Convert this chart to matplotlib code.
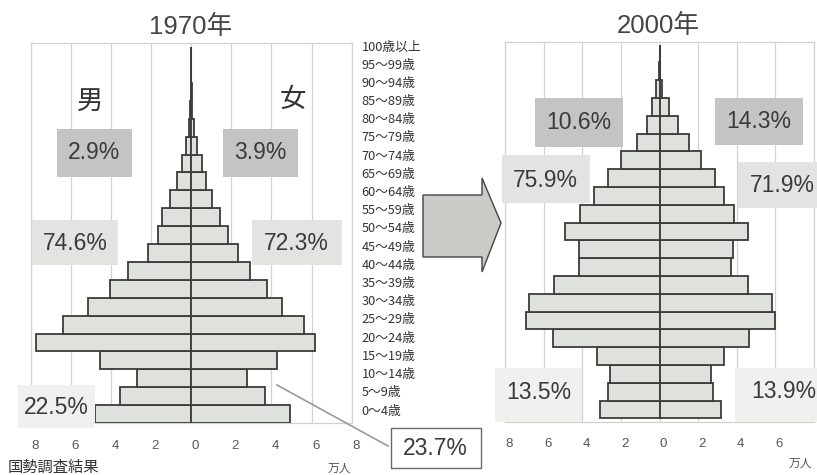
import matplotlib
matplotlib.use("Agg")
import matplotlib.pyplot as plt
import matplotlib.transforms as mtransforms
from matplotlib.patches import Rectangle, Polygon
from matplotlib.lines import Line2D
import numpy as np

plt.rcParams['font.family'] = ['Noto Sans CJK JP', 'DejaVu Sans']

# ---- data (万人) ----
age_labels = ['0〜4歳', '5〜9歳', '10〜14歳', '15〜19歳', '20〜24歳', '25〜29歳',
              '30〜34歳', '35〜39歳', '40〜44歳', '45〜49歳', '50〜54歳', '55〜59歳',
              '60〜64歳', '65〜69歳', '70〜74歳', '75〜79歳', '80〜84歳', '85〜89歳',
              '90〜94歳', '95〜99歳', '100歳以上']

male_1970 = [4.80, 3.55, 2.72, 4.53, 7.72, 6.37, 5.13, 4.05, 3.13, 2.15, 1.67,
             1.47, 1.05, 0.72, 0.45, 0.28, 0.12, 0.05, 0.02, 0.0, 0.0]
female_1970 = [4.90, 3.68, 2.78, 4.30, 6.15, 5.60, 4.55, 3.78, 2.95, 2.32, 1.85,
               1.45, 1.05, 0.75, 0.53, 0.30, 0.14, 0.06, 0.02, 0.0, 0.0]

male_2000 = [3.06, 2.69, 2.57, 3.23, 5.51, 6.89, 6.75, 5.46, 4.16, 4.16, 4.87,
             4.12, 3.38, 2.69, 1.97, 1.19, 0.67, 0.38, 0.19, 0.04, 0.0]
female_2000 = [3.18, 2.78, 2.69, 3.34, 4.65, 5.98, 5.80, 4.56, 3.68, 3.82, 4.56,
               3.87, 3.35, 2.87, 2.15, 1.52, 0.97, 0.49, 0.14, 0.03, 0.0]

xticks = [-8, -6, -4, -2, 0, 2, 4, 6, 8]
xtick_labels_1970 = ['8', '6', '4', '2', '0', '2', '4', '6', '8']
xtick_labels_2000 = ['8', '6', '4', '2', '0', '2', '4', '6', '']

titles = ['1970年', '2000年']
sex_labels = ['男', '女']

# share boxes: 65+ (top), 15-64 (middle), 0-14 (bottom)
pct_1970_male = ['2.9%', '74.6%', '22.5%']
pct_1970_female = ['3.9%', '72.3%', '23.7%']
pct_2000_male = ['10.6%', '75.9%', '13.5%']
pct_2000_female = ['14.3%', '71.9%', '13.9%']

source_text = '国勢調査結果'
unit_text = '万人'

# ---- figure ----
W, H = 817, 475
fig = plt.figure(figsize=(W / 100, H / 100), dpi=100)
fig.patch.set_facecolor('white')


def fx(x):
    return x / W


def fy(y):
    return 1 - y / H


def add_axes_px(x0, y0, x1, y1):
    return fig.add_axes([fx(x0), fy(y1), (x1 - x0) / W, (y1 - y0) / H])


BAR_FACE = '#dfe1dc'
BAR_EDGE = '#3b3b38'
GRID = '#d2d2d2'
TEXT = '#3a3a3a'
LATIN = ['Liberation Sans', 'Noto Sans CJK JP']


def pyramid(ax, male, female, ylim, labels, pad):
    y = np.arange(len(male))
    ax.barh(y, -np.array(male), height=1.0, color=BAR_FACE, edgecolor=BAR_EDGE,
            linewidth=1.3, zorder=3)
    ax.barh(y, female, height=1.0, color=BAR_FACE, edgecolor=BAR_EDGE,
            linewidth=1.3, zorder=3)
    ax.set_xlim(-8, 8)
    ax.set_ylim(*ylim)
    ax.set_xticks(xticks)
    ax.set_xticklabels(labels, fontfamily='Liberation Sans', fontsize=9.5,
                       color='#555555')
    ax.set_yticks([])
    ax.tick_params(axis='x', length=0, pad=pad)
    ax.grid(axis='x', color=GRID, linewidth=0.9)
    ax.set_axisbelow(True)
    for s in ax.spines.values():
        s.set_color(GRID)
        s.set_linewidth(0.9)
    shift = mtransforms.ScaledTranslation(4 / 100, 0, fig.dpi_scale_trans)
    for lab in ax.get_xticklabels():
        lab.set_transform(lab.get_transform() + shift)


ax1 = add_axes_px(30.7, 43, 351.7, 423)
pyramid(ax1, male_1970, female_1970, (-0.5, 20.73), xtick_labels_1970, 12.5)

ax2 = add_axes_px(505, 41.7, 814, 421.7)
pyramid(ax2, male_2000, female_2000, (-0.685, 20.66), xtick_labels_2000, 11.5)

# age-class labels to the right of the 1970 pyramid
for i, lab in enumerate(age_labels):
    ax1.text(8.5, i + 0.17 + 0.017 * i, lab, fontsize=9.2, color='#333333',
             ha='left', va='center', clip_on=False)

# titles
fig.text(fx(190.5), fy(27), titles[0], fontfamily=LATIN, fontsize=18.5,
         color='#444444', ha='center', va='center')
fig.text(fx(658), fy(26), titles[1], fontfamily=LATIN, fontsize=18.5,
         color='#444444', ha='center', va='center')

# sex labels
fig.text(fx(90.5), fy(101), sex_labels[0], fontsize=19, color='#333333',
         ha='center', va='center')
fig.text(fx(292.5), fy(99), sex_labels[1], fontsize=19, color='#333333',
         ha='center', va='center')

MID = '#c4c5c2'
LIGHT = '#e3e4e1'
PALE = '#f0f0ee'


def share_box(x0, y0, x1, y1, face, text, tx=None, ty=None, edge=None, lw=0):
    fig.patches.append(Rectangle((fx(x0), fy(y1)), (x1 - x0) / W, (y1 - y0) / H,
                                 transform=fig.transFigure, facecolor=face,
                                 edgecolor=edge if edge else face,
                                 linewidth=lw, zorder=5))
    cx = (x0 + x1) / 2 if tx is None else tx
    cy = (y0 + y1) / 2 if ty is None else ty
    fig.text(fx(cx), fy(cy), text, fontfamily='Liberation Sans', fontsize=16.5,
             color=TEXT, ha='center', va='center', zorder=6)


# 1970
share_box(56.7, 129.3, 131.7, 176.7, MID, pct_1970_male[0])
share_box(222.7, 129.3, 297.7, 176.7, MID, pct_1970_female[0])
share_box(31.7, 220, 118.3, 265, LIGHT, pct_1970_male[1], ty=244)
share_box(251.7, 220, 341.7, 265, LIGHT, pct_1970_female[1], ty=244)
share_box(18, 385, 95, 428, PALE, pct_1970_male[2], tx=56, ty=408)
share_box(390.7, 428.3, 480.7, 468, 'white', pct_1970_female[2],
          edge='#6a6a6a', lw=1.0)

# leader line to the 23.7% box
fig.add_artist(Line2D([fx(277), fx(388)], [fy(385), fy(446)],
                      transform=fig.transFigure, color='#9a9a9a', linewidth=1.2,
                      zorder=4))

# 2000
share_box(535, 98.3, 623.3, 146.7, MID, pct_2000_male[0])
share_box(715, 98.3, 803.3, 145, MID, pct_2000_female[0])
share_box(501.7, 155, 590, 203.3, LIGHT, pct_2000_male[1], ty=180)
share_box(738.3, 161.7, 817, 208.3, LIGHT, pct_2000_female[1], tx=782.5, ty=185)
share_box(495, 368.3, 581.7, 421.7, PALE, pct_2000_male[2], ty=392.5)
share_box(735, 368.3, 817, 421.7, PALE, pct_2000_female[2], tx=784, ty=392)

# transition arrow between the two years
arrow_px = [(423, 195), (482, 195), (482, 178), (501, 223), (482, 272),
            (482, 257), (423, 257)]
fig.patches.append(Polygon([(fx(x), fy(y)) for x, y in arrow_px], closed=True,
                           transform=fig.transFigure, facecolor='#c9cbc7',
                           edgecolor='#444444', linewidth=1.0, zorder=5))

# source and units
fig.text(fx(8), fy(459), source_text, fontsize=11, color='#333333',
         ha='left', va='top')
fig.text(fx(339), fy(468), unit_text, fontsize=8.5, color='#555555',
         ha='center', va='center')
fig.text(fx(800), fy(463), unit_text, fontsize=8.5, color='#555555',
         ha='center', va='center')

fig.savefig('out.png', dpi=100, facecolor='white')
